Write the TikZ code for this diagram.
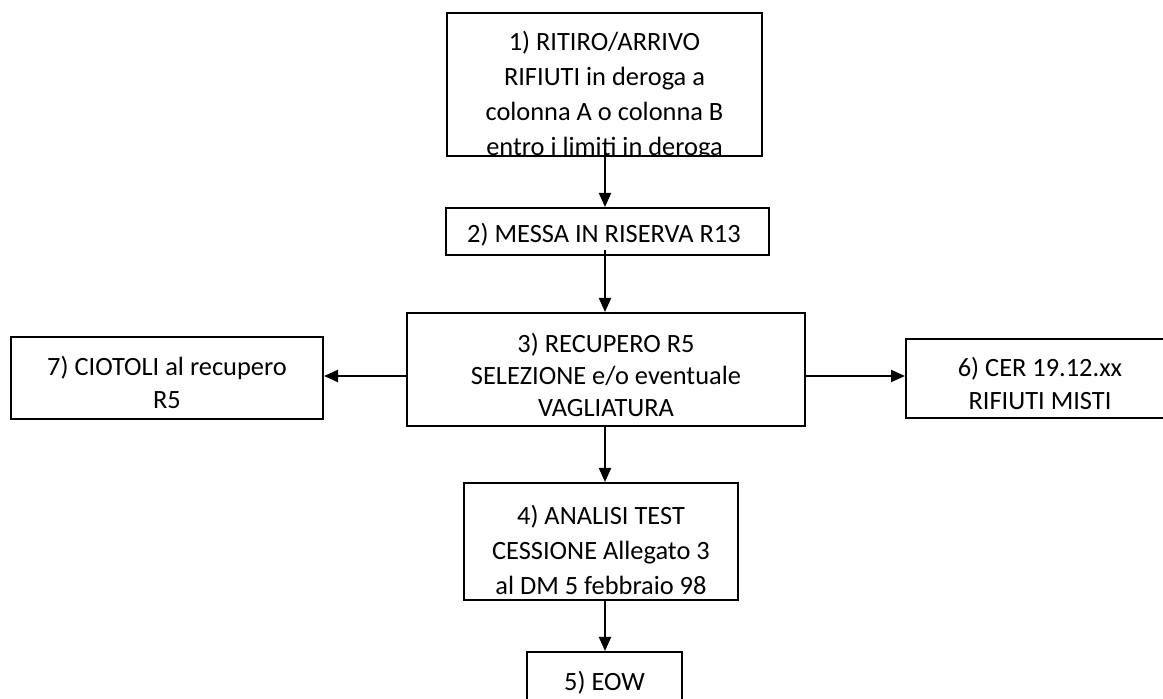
\documentclass[tikz,border=0pt]{standalone}
\usepackage{fontspec}
\setmainfont{Carlito}
\usetikzlibrary{arrows.meta}
\tikzset{
  box/.style={draw=black, line width=1pt, inner sep=0pt, fill=white},
  txt/.style={align=center, inner sep=0pt, font=\fontsize{13.2pt}{16.5pt}\selectfont},
  arr/.style={draw=black, line width=1pt, -{Triangle[width=6pt,length=7pt]}}
}
\newcommand\mkbox[5]{%
  \node[box, minimum width={(#4-#2)*0.5pt}, minimum height={(#5-#3)*0.5pt}]
    (#1) at ({(#2+#4)/2},{(#3+#5)/2}) {};}
\begin{document}
\begin{tikzpicture}[x=0.5pt,y=-0.5pt]
\useasboundingbox (0,0) rectangle (1163,699);
\clip (0,0) rectangle (1163,699);
\fill[white] (0,0) rectangle (1163,699);
% boxes
\mkbox{b1}{447}{13}{762}{156}
\mkbox{b2}{446}{208}{769}{255}
\mkbox{b3}{407}{313}{805}{426}
\mkbox{b4}{464}{483}{738}{600}
\mkbox{b5}{527}{652}{682}{730}
\mkbox{b6}{906}{339}{1174}{418}
\mkbox{b7}{11}{337}{323}{419}
% texts
\begin{scope}
\clip (448,14) rectangle (761,155);
\node[txt, font=\fontsize{13.2pt}{17.5pt}\selectfont] (t1) at (604.5,96)
  {1) RITIRO/ARRIVO\\RIFIUTI in deroga a\\colonna A o colonna B\\entro i limiti in deroga};
\end{scope}
\node[txt] (t2) at (604,235) {2) MESSA IN RISERVA R13};
\node[txt, font=\fontsize{13.2pt}{15.8pt}\selectfont] (t3) at (606,375)
  {3) RECUPERO R5\\SELEZIONE e/o eventuale\\VAGLIATURA};
\node[txt, font=\fontsize{13.2pt}{17.5pt}\selectfont] (t4) at (601,550)
  {4) ANALISI TEST\\CESSIONE Allegato 3\\al DM 5 febbraio 98};
\node[txt] (t5) at (604.5,683) {5) EOW};
\node[txt] (t6) at (1040,383) {6) CER 19.12.xx\\RIFIUTI MISTI};
\node[txt] (t7) at (167,382) {7) CIOTOLI al recupero\\R5};
% connectors
\coordinate (s1) at (605,149);
\coordinate (s2) at (605,250);
\coordinate (h) at (0,376);
\draw[arr] (s1) -- (s1 |- b2.north);
\draw[arr] (s2) -- (s2 |- b3.north);
\draw[arr] (b3.south -| s1) -- (b4.north -| s1);
\draw[arr] (b4.south -| s1) -- (b5.north -| s1);
\draw[arr] (b3.west |- h) -- (b7.east |- h);
\draw[arr] (b3.east |- h) -- (b6.west |- h);
\end{tikzpicture}
\end{document}
